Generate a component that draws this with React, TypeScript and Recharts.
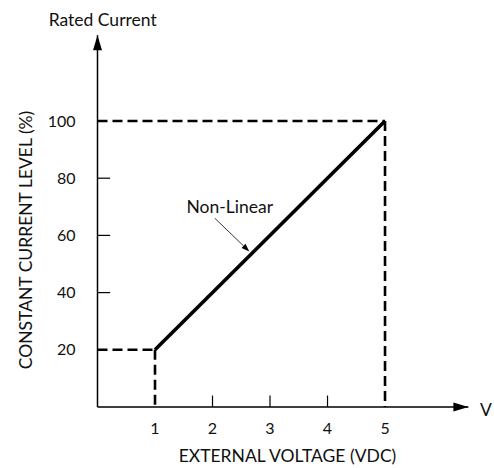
import React from 'react';
import { LineChart, Line, XAxis, YAxis, ReferenceLine, ReferenceDot, Label } from 'recharts';

// ---- data ----
const voltage = [1, 5];
const currentLevel = [20, 100];
const xTicks = [1, 2, 3, 4, 5];
const yTicks = [20, 40, 60, 80, 100];
const xTickMarks = [2, 3, 4];
const yTickMarks = [40, 60, 80];
const xDomainMax = 6.45;
const yDomainMax = 130;
// annotation pointer (data units): start near label, tip touching the line
const pointerStart = { v: 2.04, c: 66 };
const pointerTip = { v: 2.64, c: 54.4 };
const labelRated = { v: 0.09, c: 133.3 };
const labelV = { v: 6.65, c: -3.1 };
const labelNonLinear = { v: 2.3, c: 67.8 };

const data = voltage.map((v, i) => ({ v, c: currentLevel[i] }));

const FONT = 'Lato, "Open Sans", sans-serif';
const FS = 17.5;
const FS_TICK = 16;
const BLACK = '#000';
const TEXT = '#111';

const triangle = (tx: number, ty: number, dx: number, dy: number, len: number, half: number) => {
  const bx = tx - dx * len;
  const by = ty - dy * len;
  const px = -dy;
  const py = dx;
  return `${tx},${ty} ${bx + px * half},${by + py * half} ${bx - px * half},${by - py * half}`;
};

const ArrowRight = (p: any) => <polygon points={triangle(p.cx, p.cy, 1, 0, 15, 4.5)} fill={BLACK} />;
const ArrowUp = (p: any) => <polygon points={triangle(p.cx, p.cy, 0, -1, 15, 4.5)} fill={BLACK} />;

const Pointer = (p: any) => {
  const { x1, y1, x2, y2 } = p;
  const L = Math.hypot(x2 - x1, y2 - y1) || 1;
  const dx = (x2 - x1) / L;
  const dy = (y2 - y1) / L;
  const len = 8;
  return (
    <g>
      <line x1={x1} y1={y1} x2={x2 - dx * len} y2={y2 - dy * len} stroke={BLACK} strokeWidth={0.8} />
      <polygon points={triangle(x2, y2, dx, dy, len, 2.8)} fill={BLACK} />
    </g>
  );
};

const textLabel = (value: string, anchor: 'start' | 'middle' | 'end', fs = FS) => (props: any) => {
  const vb = props.viewBox || {};
  const x = vb.cx !== undefined ? vb.cx : vb.x;
  const y = vb.cy !== undefined ? vb.cy : vb.y;
  return (
    <text x={x} y={y} textAnchor={anchor} fontFamily={FONT} fontSize={fs} fill={TEXT}>
      {value}
    </text>
  );
};

export default function App() {
  return (
    <div style={{ position: 'absolute', left: 0, top: 0, width: 494, height: 468, background: '#fff' }}>
      <LineChart
        width={494}
        height={468}
        data={data}
        margin={{ top: 35.2, right: 25.6, bottom: 31, left: 37.5 }}
      >
        <XAxis
          dataKey="v"
          type="number"
          domain={[0, xDomainMax]}
          ticks={xTicks}
          allowDataOverflow
          height={30}
          axisLine={{ stroke: BLACK, strokeWidth: 1.5 }}
          tickLine={false}
          tickSize={6}
          tickMargin={10}
          tick={{ fill: TEXT, fontSize: FS_TICK, fontFamily: FONT }}
        >
          <Label
            content={() => (
              <text x={287.5} y={462} textAnchor="middle" fontFamily={FONT} fontSize={FS} fill={TEXT}>
                EXTERNAL VOLTAGE (VDC)
              </text>
            )}
          />
        </XAxis>
        <YAxis
          type="number"
          domain={[0, yDomainMax]}
          ticks={yTicks}
          allowDataOverflow
          width={60}
          axisLine={{ stroke: BLACK, strokeWidth: 1.5 }}
          tickLine={false}
          tickSize={6}
          tickMargin={16}
          tick={{ fill: TEXT, fontSize: FS_TICK, fontFamily: FONT }}
        >
          <Label
            content={() => (
              <text
                x={0}
                y={0}
                transform="translate(32,240) rotate(-90)"
                textAnchor="middle"
                fontFamily={FONT}
                fontSize={FS}
                fill={TEXT}
              >
                CONSTANT CURRENT LEVEL (%)
              </text>
            )}
          />
        </YAxis>

        {xTickMarks.map((t) => (
          <ReferenceLine
            key={'xt' + t}
            segment={[{ x: t, y: 0 }, { x: t, y: 4 }]}
            stroke={BLACK}
            strokeWidth={1.2}
            ifOverflow="visible"
          />
        ))}
        {yTickMarks.map((t) => (
          <ReferenceLine
            key={'yt' + t}
            segment={[{ x: 0, y: t }, { x: 0.22, y: t }]}
            stroke={BLACK}
            strokeWidth={1.2}
            ifOverflow="visible"
          />
        ))}

        <ReferenceLine segment={[{ x: 0, y: currentLevel[0] }, { x: voltage[0], y: currentLevel[0] }]} stroke={BLACK} strokeWidth={2.6} strokeDasharray="10 5" ifOverflow="visible" />
        <ReferenceLine segment={[{ x: voltage[0], y: currentLevel[0] }, { x: voltage[0], y: 0 }]} stroke={BLACK} strokeWidth={2.6} strokeDasharray="10 5" ifOverflow="visible" />
        <ReferenceLine segment={[{ x: 0, y: currentLevel[1] }, { x: voltage[1], y: currentLevel[1] }]} stroke={BLACK} strokeWidth={2.6} strokeDasharray="10 5" ifOverflow="visible" />
        <ReferenceLine segment={[{ x: voltage[1], y: currentLevel[1] }, { x: voltage[1], y: 0 }]} stroke={BLACK} strokeWidth={2.6} strokeDasharray="10 5" ifOverflow="visible" />

        <Line
          dataKey="c"
          stroke={BLACK}
          strokeWidth={3.6}
          dot={false}
          activeDot={false}
          isAnimationActive={false}
        />

        <ReferenceLine
          segment={[{ x: pointerStart.v, y: pointerStart.c }, { x: pointerTip.v, y: pointerTip.c }]}
          shape={Pointer}
          ifOverflow="visible"
        />

        <ReferenceDot x={xDomainMax} y={0} r={0} shape={ArrowRight} ifOverflow="visible" />
        <ReferenceDot x={0} y={yDomainMax} r={0} shape={ArrowUp} ifOverflow="visible" />

        <ReferenceDot x={labelRated.v} y={labelRated.c} r={0} fill="none" stroke="none" ifOverflow="visible">
          <Label content={textLabel('Rated Current', 'middle')} />
        </ReferenceDot>
        <ReferenceDot x={labelV.v} y={labelV.c} r={0} fill="none" stroke="none" ifOverflow="visible">
          <Label content={textLabel('V', 'start')} />
        </ReferenceDot>
        <ReferenceDot x={labelNonLinear.v} y={labelNonLinear.c} r={0} fill="none" stroke="none" ifOverflow="visible">
          <Label content={textLabel('Non-Linear', 'middle')} />
        </ReferenceDot>
      </LineChart>
    </div>
  );
}
